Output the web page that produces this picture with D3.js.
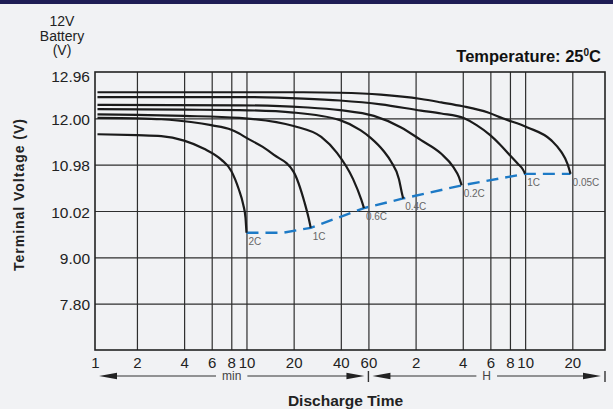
<!DOCTYPE html>
<html><head><meta charset="utf-8">
<script src="https://cdn.jsdelivr.net/npm/d3@7"></script>
<style>
html,body{margin:0;padding:0;background:#f1f2f4;}
svg{display:block;font-family:"Liberation Sans",Arial,Helvetica,sans-serif;}
</style></head><body>
<svg id="chart" width="613" height="409"></svg>
<script>
// ---- data ----
const minuteTicks = [1, 2, 4, 6, 8, 10, 20, 40, 60];
const hourTicks = [2, 4, 6, 8, 10, 20];
const voltLevels = [6.6, 7.80, 9.00, 10.02, 10.98, 12.00, 12.96];
const voltLabels = ["", "7.80", "9.00", "10.02", "10.98", "12.00", "12.96"];
const rateLabels = ["0.05C", "1C", "0.2C", "0.4C", "0.6C", "1C", "2C"];
// [time in minutes, voltage]
const curve005C = [[1.12,12.54],[23,12.54],[39.5,12.53],[72,12.49],[130,12.40],[175,12.33],[240,12.25],[348,12.12],[431,12.00],[621,11.80],[879,11.52],[1021,11.26],[1118,11.00],[1170,10.79]];
const curve01C = [[1.12,12.44],[9,12.44],[23,12.41],[39.5,12.37],[72,12.29],[130,12.16],[175,12.10],[245,12.00],[294,11.85],[359,11.63],[416,11.42],[476,11.20],[539,11.00],[578,10.89],[600,10.79]];
const curve02C = [[1.12,12.28],[9,12.27],[23,12.23],[39.5,12.17],[65,12.05],[97,11.80],[130,11.52],[175,11.22],[208,10.94],[227,10.72],[236,10.55]];
const curve04C = [[1.12,12.19],[4,12.18],[9,12.17],[20,12.12],[39.5,11.96],[53.3,11.74],[62,11.57],[75,11.28],[83.6,11.05],[94,10.68],[98,10.40],[100,10.28]];
const curve06C = [[1.12,12.08],[2,12.07],[4,12.05],[9,12.01],[20,11.83],[30,11.59],[37.8,11.24],[47.9,10.68],[54.1,10.25],[56.2,10.08]];
const curve1C = [[1.12,12.01],[2,12.00],[2.86,11.98],[4.42,11.92],[5.95,11.85],[8,11.75],[8.93,11.67],[10,11.57],[12.7,11.37],[14.9,11.20],[20,10.83],[23.5,10.19],[24.9,9.87],[25.7,9.65]];
const curve2C = [[1.12,11.65],[2,11.63],[2.86,11.61],[4,11.51],[5.36,11.33],[6.9,11.09],[8,10.85],[8.93,10.47],[9.54,10.15],[9.86,9.87],[10,9.54]];
const cutoffLine = [[10,9.54],[17,9.54],[25.7,9.65],[56.2,10.08],[100,10.28],[236,10.55],[600,10.79],[1170,10.79]];

// ---- layout ----
const W = 613, H = 409;
const pL = 95, pR = 605, pT = 72, pB = 350;
const svg = d3.select("#chart");

svg.append("rect").attr("width", W).attr("height", H).attr("fill", "#f1f2f4");
svg.append("rect").attr("width", W).attr("height", 4).attr("fill", "#1f1d55");

const x = d3.scaleLog().domain([1.08, 1940]).range([pL, pR]).clamp(true);
const yRange = voltLevels.map((v, i) => pB - i * (pB - pT) / (voltLevels.length - 1));
const y = d3.scaleLinear().domain(voltLevels).range(yRange);

const allTicks = minuteTicks.concat(hourTicks.map(h => h * 60));

// grid
const gx = svg.append("g").attr("transform", `translate(0,${pB})`)
  .call(d3.axisBottom(x).tickValues(allTicks.filter(t => t > 1)).tickSize(-(pB - pT)).tickFormat(""));
gx.select(".domain").remove();
gx.selectAll("line").attr("stroke", "#2e2e2e").attr("stroke-width", 1.2);

const gy = svg.append("g").attr("transform", `translate(${pL},0)`)
  .call(d3.axisLeft(y).tickValues(voltLevels.slice(1, -1)).tickSize(-(pR - pL)).tickFormat(""));
gy.select(".domain").remove();
gy.selectAll("line").attr("stroke", "#2e2e2e").attr("stroke-width", 1.2);

svg.append("rect").attr("x", pL).attr("y", pT).attr("width", pR - pL).attr("height", pB - pT)
  .attr("fill", "none").attr("stroke", "#222").attr("stroke-width", 1.6);

// x labels
const xl = svg.append("g").attr("transform", `translate(0,${pB})`)
  .call(d3.axisBottom(x).tickValues(allTicks).tickSize(0).tickPadding(7)
    .tickFormat(d => d > 60 ? String(d / 60) : String(d)));
xl.select(".domain").remove();
xl.selectAll("text").attr("font-size", 15).attr("fill", "#222");
xl.attr("font-family", null);

// y labels
const yl = svg.append("g").attr("transform", `translate(${pL},0)`)
  .call(d3.axisLeft(y).tickValues(voltLevels.slice(1)).tickSize(0).tickPadding(5)
    .tickFormat(d => voltLabels[voltLevels.indexOf(d)]));
yl.select(".domain").remove();
yl.attr("font-family", null);
yl.selectAll("text").attr("font-size", 15.5).attr("fill", "#222")
  .attr("dy", d => d === voltLevels[voltLevels.length - 1] ? "0.62em" : "0.4em");

// curves
const line = d3.line().x(d => x(d[0])).y(d => y(d[1])).curve(d3.curveMonotoneX);
const series = [curve005C, curve01C, curve02C, curve04C, curve06C, curve1C, curve2C];

svg.append("path").datum(cutoffLine).attr("d", d3.line().x(d => x(d[0])).y(d => y(d[1])))
  .attr("fill", "none").attr("stroke", "#1d7ac6").attr("stroke-width", 2.4)
  .attr("stroke-dasharray", "12,7");

svg.append("g").selectAll("path").data(series).join("path")
  .attr("d", line).attr("fill", "none").attr("stroke", "#1b1b1b").attr("stroke-width", 2.2);

svg.append("g").selectAll("text").data(series).join("text")
  .attr("x", d => x(d[d.length - 1][0]) + 2)
  .attr("y", d => y(d[d.length - 1][1]) + 12)
  .attr("font-size", 10).attr("fill", "#666")
  .text((d, i) => rateLabels[i]);

// y title and top labels
svg.append("text").attr("transform", "translate(23.5,195) rotate(-90)")
  .attr("text-anchor", "middle").attr("font-size", 14).attr("font-weight", "bold").attr("fill", "#222")
  .attr("textLength", 152).attr("lengthAdjust", "spacing")
  .text("Terminal Voltage (V)");

const unit = svg.append("text").attr("text-anchor", "middle").attr("font-size", 14).attr("fill", "#222");
["12V", "Battery", "(V)"].forEach((t, i) => unit.append("tspan").attr("x", 62).attr("y", 26 + i * 14.5).text(t));

const temp = svg.append("text").attr("x", 601).attr("y", 62).attr("text-anchor", "end")
  .attr("font-size", 16.5).attr("font-weight", "bold").attr("fill", "#111");
temp.append("tspan").text("Temperature: 25");
temp.append("tspan").attr("font-size", 10).attr("dy", -6).text("0");
temp.append("tspan").attr("dy", 6).text("C");

// time-unit arrows
const ay = 376;
const segs = [
  {a: x(1), b: x(60), label: "min"},
  {a: x(60), b: x.range()[1], label: "H"}
];
const ag = svg.append("g");
segs.forEach(s => {
  const t0 = s.a + 4, t1 = s.b - 4, mid = (s.a + s.b) / 2;
  const txt = ag.append("text").attr("x", mid).attr("y", ay + 4).attr("text-anchor", "middle")
    .attr("font-size", 12).attr("fill", "#444").text(s.label);
  const half = txt.node().getComputedTextLength() / 2 + 6;
  ag.append("line").attr("x1", t0 + 10).attr("x2", mid - half).attr("y1", ay).attr("y2", ay)
    .attr("stroke", "#333").attr("stroke-width", 1.2);
  ag.append("line").attr("x1", mid + half).attr("x2", t1 - 10).attr("y1", ay).attr("y2", ay)
    .attr("stroke", "#333").attr("stroke-width", 1.2);
  ag.append("path").attr("d", `M${t0},${ay}L${t0 + 18},${ay - 3.2}L${t0 + 18},${ay + 3.2}Z`).attr("fill", "#222");
  ag.append("path").attr("d", `M${t1},${ay}L${t1 - 18},${ay - 3.2}L${t1 - 18},${ay + 3.2}Z`).attr("fill", "#222");
});
[x(60), x.range()[1]].forEach(px => ag.append("line").attr("x1", px).attr("x2", px)
  .attr("y1", ay - 5).attr("y2", ay + 6).attr("stroke", "#333").attr("stroke-width", 1.4));

svg.append("text").attr("x", 345.5).attr("y", 406).attr("text-anchor", "middle")
  .attr("font-size", 15.5).attr("font-weight", "bold").attr("fill", "#222").text("Discharge Time");
</script>
</body></html>
